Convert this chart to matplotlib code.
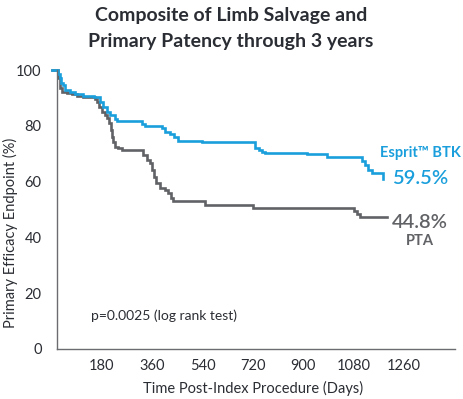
import matplotlib
matplotlib.use("Agg")
import matplotlib.pyplot as plt

plt.rcParams['font.family'] = ['Lato', 'DejaVu Sans']

# Esprit BTK Kaplan-Meier estimate (days, %)
esprit_days = [0, 22, 28, 34, 41, 48, 65, 83, 113, 150, 173, 185, 197, 209, 226, 232, 322, 334, 394, 406,
               423, 438, 453, 537, 728, 740, 752, 763, 913, 984, 1110, 1121, 1133, 1145, 1187]
esprit_vals = [100, 98.5, 97, 95.5, 94.6, 92.8, 92.2, 91.3, 90.7, 90.4, 88.6, 86.9, 85.1, 83.9, 82.3, 81.7, 80.6, 80.0, 79.1, 77.9,
               77.1, 75.9, 74.7, 74.1, 72.0, 71.3, 70.7, 70.4, 69.8, 68.9, 67.4, 65.9, 64.2, 63.2, 60.8]

# PTA Kaplan-Meier estimate (days, %)
pta_days = [0, 22, 30, 36, 54, 72, 89, 113, 155, 161, 170, 179, 191, 199, 206, 212, 215, 220, 227, 238,
            250, 328, 340, 352, 358, 366, 373, 388, 405, 417, 426, 435, 549, 722, 1080, 1094, 1103, 1199]
pta_vals = [100, 97, 93.4, 92.2, 91.6, 91.3, 90.7, 90.4, 89.5, 88.6, 86.8, 85.1, 83.9, 82.7, 80.9, 78.5, 76.1, 74.3, 72.5, 71.9,
            71.3, 69.5, 67.7, 66.6, 64.2, 61.8, 59.4, 57.6, 57.0, 55.8, 54.0, 53.0, 51.6, 50.4, 49.5, 48.3, 47.2, 47.2]

x_ticks = [180, 360, 540, 720, 900, 1080, 1260]
y_ticks = [0, 20, 40, 60, 80, 100]

BLUE = '#1a9fdc'
GRAY = '#616266'
DARK = '#2a2d33'

fig = plt.figure(figsize=(4.63, 3.99), dpi=100)
ax = fig.add_axes([57/463, 50/399, 398/463, 279/399])

ax.plot(pta_days, pta_vals, drawstyle='steps-post', color=GRAY, lw=1.9, clip_on=False, solid_joinstyle='miter')
ax.plot(esprit_days, esprit_vals, drawstyle='steps-post', color=BLUE, lw=1.9, clip_on=False, solid_joinstyle='miter')

ax.set_xlim(19, 1443)
ax.set_ylim(0, 100)
ax.set_xticks(x_ticks)
ax.set_yticks(y_ticks)
ax.tick_params(length=0, labelsize=10.5, labelcolor=DARK)
ax.tick_params(axis='x', pad=7)
ax.tick_params(axis='y', pad=11)
for s in ['top', 'right']:
    ax.spines[s].set_visible(False)
for s in ['left', 'bottom']:
    ax.spines[s].set_color('#6b6c70')
    ax.spines[s].set_linewidth(1.0)

fig.text(10/463, 1 - 233/399, 'Primary Efficacy Endpoint (%)', fontsize=10.5, color=DARK,
         rotation=90, ha='center', va='center')
fig.text(253/463, 1 - 388/399, 'Time Post-Index Procedure (Days)', fontsize=10.5, color=DARK,
         ha='center', va='center')

fig.text(231/463, 1 - 15/399, 'Composite of Limb Salvage and', ha='center', va='center',
         fontsize=14, fontweight='bold', color=DARK)
fig.text(231/463, 1 - 41/399, 'Primary Patency through 3 years', ha='center', va='center',
         fontsize=14, fontweight='bold', color=DARK)

ax.text(140, 11.8, 'p=0.0025 (log rank test)', fontsize=10, color=DARK, va='center', ha='left')

fig.text(420/463, 1 - 153/399, 'Esprit™ BTK', color=BLUE, fontsize=10.5, fontweight='bold', ha='center', va='center')
fig.text(420/463, 1 - 178/399, '59.5%', color=BLUE, fontsize=14.5, fontweight='semibold', ha='center', va='center')
fig.text(420/463, 1 - 222/399, '44.8%', color=GRAY, fontsize=14.5, fontweight='semibold', ha='center', va='center')
fig.text(420/463, 1 - 241/399, 'PTA', color=GRAY, fontsize=10.5, fontweight='bold', ha='center', va='center')

fig.savefig('out.png', dpi=100, facecolor='white')
